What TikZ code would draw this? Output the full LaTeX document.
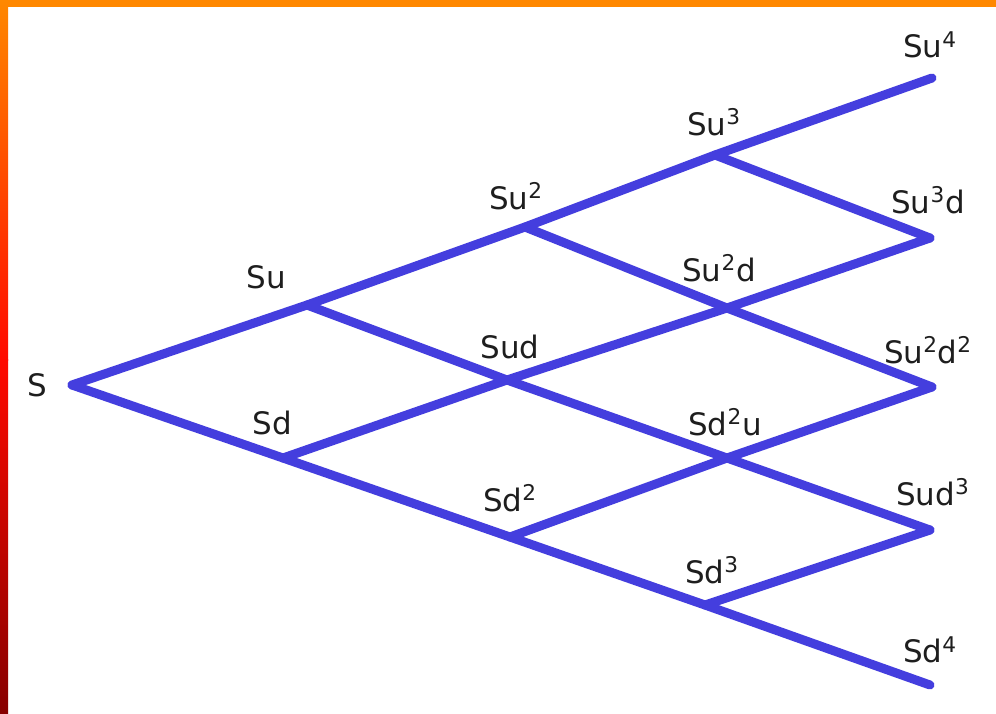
\documentclass[tikz,border=0pt]{standalone}
\usepackage{fontspec}
\setmainfont{DejaVu Sans}
\definecolor{treeblue}{RGB}{68,62,222}
\definecolor{txtgray}{RGB}{30,30,30}
\definecolor{frameorange}{RGB}{255,136,0}
\definecolor{framered}{RGB}{255,10,0}
\definecolor{framedark}{RGB}{135,0,0}
\tikzset{branch/.style={draw=treeblue,line width=6.4pt,line cap=round,line join=round},
	lbl/.style={text=txtgray,font=\fontsize{22}{26}\selectfont,inner sep=0pt}}
\begin{document}
\begin{tikzpicture}[x=0.025cm,y=-0.025cm]
	\useasboundingbox (0,0) rectangle (996,713);
	% frame
	\fill[white] (0,0) rectangle (996,713);
	\fill[frameorange] (0,0) rectangle (996,7);
	\shade[top color=frameorange,bottom color=framered] (0,0) rectangle (8,360);
	\shade[top color=framered,bottom color=framedark] (0,359) rectangle (8,713);
	% junctions
	\coordinate (S) at (72,385);
	\coordinate (Su) at (307,305);\coordinate (Sd) at (283,458);
	\coordinate (Suu) at (525,227);\coordinate (Sud) at (507,380);\coordinate (Sdd) at (510,537);
	\coordinate (Suuu) at (715,155);\coordinate (Suud) at (727,308);\coordinate (Sddu) at (727,458);\coordinate (Sddd) at (705,605);
	\coordinate (Su4) at (932,78);\coordinate (Su3d) at (930,238);\coordinate (Su2d2) at (932,387);\coordinate (Sud3) at (930,530);\coordinate (Sd4) at (930,685);
	% branches
	\draw[branch] (S) -- (Su) -- (Suu) -- (Suuu) -- (Su4);
	\draw[branch] (S) -- (Sd) -- (Sdd) -- (Sddd) -- (Sd4);
	\draw[branch] (Su) -- (Sud) -- (Sddu) -- (Sud3);
	\draw[branch] (Sd) -- (Sud) -- (Suud) -- (Su3d);
	\draw[branch] (Suu) -- (Suud) -- (Su2d2);
	\draw[branch] (Sdd) -- (Sddu) -- (Su2d2);
	\draw[branch] (Suuu) -- (Su3d);
	\draw[branch] (Sddd) -- (Sud3);
	% labels
	\node[lbl] (lS) at (37,385) {S};
	\node[lbl] (lSu) at (266,277) {Su};
	\node[lbl] (lSd) at (272,423) {Sd};
	\node[lbl] (lSuu) at (516,196) {Su\textsuperscript{2}};
	\node[lbl] (lSud) at (510,347) {Sud};
	\node[lbl] (lSdd) at (510,498) {Sd\textsuperscript{2}};
	\node[lbl] (lSuuu) at (714,122) {Su\textsuperscript{3}};
	\node[lbl] (lSuud) at (719,268) {Su\textsuperscript{2}d};
	\node[lbl] (lSddu) at (725,422) {Sd\textsuperscript{2}u};
	\node[lbl] (lSddd) at (712,570) {Sd\textsuperscript{3}};
	\node[lbl] (lSu4) at (930,45) {Su\textsuperscript{4}};
	\node[lbl] (lSu3d) at (928,200) {Su\textsuperscript{3}d};
	\node[lbl] (lSu2d2) at (928,350) {Su\textsuperscript{2}d\textsuperscript{2}};
	\node[lbl] (lSud3) at (933,492) {Sud\textsuperscript{3}};
	\node[lbl] (lSd4) at (930,650) {Sd\textsuperscript{4}};
\end{tikzpicture}
\end{document}
